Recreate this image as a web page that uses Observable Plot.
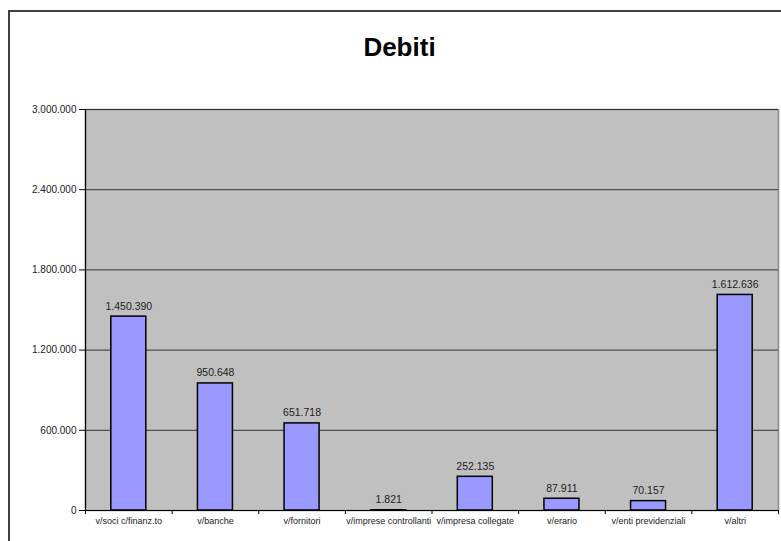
<!DOCTYPE html>
<html>
<head>
<meta charset="utf-8">
<script src="https://cdn.jsdelivr.net/npm/d3@7"></script>
<script src="https://cdn.jsdelivr.net/npm/@observablehq/plot@0.6"></script>
<style>
  html, body { margin: 0; padding: 0; background: #fff; }
  #wrap { position: relative; width: 781px; height: 541px; overflow: hidden; font-family: Arial, "Liberation Sans", sans-serif; }
  #border { position: absolute; left: 8px; top: 10px; width: 900px; height: 700px; border-top: 2px solid #404040; border-left: 2px solid #404040; }
  #title { position: absolute; left: 0; width: 781px; top: 32px; text-align: center; font-size: 26px; font-weight: bold; color: #000; padding-left: 18px; box-sizing: border-box; }
  #chart { position: absolute; left: 0; top: 0; }
</style>
</head>
<body>
<div id="wrap">
  <div id="border"></div>
  <div id="chart"></div>
  <div id="title">Debiti</div>
</div>
<script>
const categories = ["v/soci c/finanz.to", "v/banche", "v/fornitori", "v/imprese controllanti", "v/impresa collegate", "v/erario", "v/enti previdenziali", "v/altri"];
const values = [1450390, 950648, 651718, 1821, 252135, 87911, 70157, 1612636];
const yTicks = [0, 600000, 1200000, 1800000, 2400000, 3000000];

const it = d3.formatLocale({decimal: ",", thousands: ".", grouping: [3], currency: ["", ""]});
const fmt = it.format(",");

const data = categories.map((c, i) => ({cat: c, value: values[i]}));

const W = 781, H = 541, mL = 85, mR = 3, mT = 109, mB = 31;
const bw = (W - mL - mR) / categories.length;
const inset = (bw - 35) / 2;

const chart = Plot.plot({
  width: W,
  height: H,
  marginLeft: mL,
  marginRight: mR,
  marginTop: mT,
  marginBottom: mB,
  style: {fontFamily: "Arial, 'Liberation Sans', sans-serif", color: "#222", background: "transparent", overflow: "visible"},
  x: {domain: categories, padding: 0, round: false, label: null},
  y: {domain: [0, 3000000], label: null},
  marks: [
    Plot.frame({fill: "#c0c0c0", stroke: "#8a8a8a", strokeWidth: 1.5}),
    Plot.gridY(yTicks, {stroke: "#333", strokeOpacity: 1, strokeWidth: 1}),
    Plot.barY(data, {x: "cat", y: "value", fill: "#9999ff", stroke: "#000", strokeWidth: 1.5, insetLeft: inset, insetRight: inset}),
    Plot.text(data, {x: "cat", y: "value", text: d => fmt(d.value), lineAnchor: "bottom", dy: -7, fontSize: 10.5, fill: "#222"}),
    Plot.frame({anchor: "left", stroke: "#000", strokeWidth: 1.2}),
    Plot.ruleY([0], {stroke: "#000", strokeWidth: 1.2}),
    Plot.axisY(yTicks, {tickFormat: d => fmt(d), tickSize: 6, tickPadding: 3, fontSize: 10, stroke: "#000", fill: "#222"}),
    Plot.axisX(categories, {text: null, tickSize: 4, dx: -bw / 2, stroke: "#000"}),
    Plot.axisX([categories[categories.length - 1]], {text: null, tickSize: 4, dx: bw / 2, stroke: "#000"}),
    Plot.axisX(categories, {tickSize: 0, tickPadding: 7, fontSize: 9, fill: "#222"})
  ]
});
document.getElementById("chart").appendChild(chart);
</script>
</body>
</html>
